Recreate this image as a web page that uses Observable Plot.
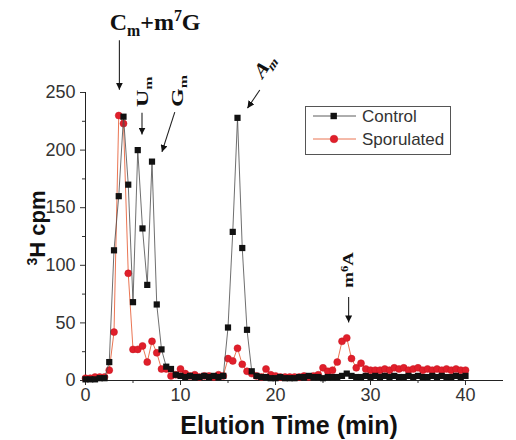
<!DOCTYPE html>
<html>
<head>
<meta charset="utf-8">
<script src="https://cdn.jsdelivr.net/npm/d3@7"></script>
<script src="https://cdn.jsdelivr.net/npm/@observablehq/plot@0.6"></script>
<style>
  html, body { margin: 0; padding: 0; background: #fff; }
  #chart { width: 516px; height: 440px; position: relative; }
</style>
</head>
<body>
<div id="chart"></div>
<script>
// ---- data (elution time in min, 3H cpm) ----
const times = [0,0.5,1,1.5,2,2.5,3,3.5,4,4.5,5,5.5,6,6.5,7,7.5,8,8.5,9,9.5,
  10,10.5,11,11.5,12,12.5,13,13.5,14,14.5,15,15.5,16,16.5,17,17.5,18,18.5,19,19.5,
  20,20.5,21,21.5,22,22.5,23,23.5,24,24.5,25,25.5,26,26.5,27,27.5,28,28.5,29,29.5,
  30,30.5,31,31.5,32,32.5,33,33.5,34,34.5,35,35.5,36,36.5,37,37.5,38,38.5,39,39.5,40];
const control = [1,1,1,2,2,16,113,160,229,170,68,200,132,83,190,66,27,12,10,5,
  4,3,4,3,3,4,3,4,3,4,46,129,228,115,44,8,4,3,3,2,
  2,3,2,2,2,3,3,4,3,3,2,3,3,3,4,6,4,3,3,4,
  3,4,3,4,3,4,3,3,4,3,4,3,3,4,3,4,3,3,4,3,4];
const sporulated = [2,2,3,3,3,9,42,230,223,93,27,27,30,16,34,24,10,10,4,5,
  10,6,4,5,3,4,4,3,5,4,19,17,28,14,8,6,4,3,10,5,
  4,3,3,3,3,3,4,3,4,5,11,8,9,16,34,37,19,11,15,10,
  9,9,9,10,9,11,10,11,9,10,11,9,10,9,10,9,10,9,10,9,9];
const seriesNames = ["Control", "Sporulated"];
const xTicks = [0, 10, 20, 30, 40];
const yTicks = [0, 50, 100, 150, 200, 250];
const yMinor = [25, 75, 125, 175, 225];
const xMinor = [5, 15, 25, 35];

// annotation labels: segments [text, kind], anchor in data units, rotation
const annoLabels = [
  {parts: [["C",""],["m","sub"],["+m",""],["7","sup"],["G",""]], x: 2.6, y: 304, rotate: 0, size: 24, sx: 1},
  {parts: [["U",""],["m","sub"]], x: 6.62, y: 237, rotate: -90, size: 24, sx: 0.66},
  {parts: [["G",""],["m","sub"]], x: 10.29, y: 237, rotate: -90, size: 24, sx: 0.66},
  {parts: [["A",""],["m","sub"]], x: 18.6, y: 260, rotate: -48, size: 23, sx: 0.7},
  {parts: [["m",""],["6","sup"],["A",""]], x: 28.26, y: 80, rotate: -90, size: 19, sx: 0.82}
];
const annoArrows = [
  {x1: 3.62, y1: 295, x2: 3.62, y2: 252},
  {x1: 6.0, y1: 232, x2: 6.0, y2: 213},
  {x1: 9.45, y1: 232.5, x2: 8.1, y2: 198},
  {x1: 18.4, y1: 251.7, x2: 17.1, y2: 236},
  {x1: 27.75, y1: 72, x2: 27.75, y2: 50}
];

const ctrlData = times.map((t, i) => ({t, v: control[i]}));
const sporData = times.map((t, i) => ({t, v: sporulated[i]}));

const RED_LINE = "#e8653f", RED_DOT = "#e01f2b", RED_EDGE = "#c8141f";
const BLK_LINE = "#4a4a4a", BLK_DOT = "#111";

const plot = Plot.plot({
  width: 516,
  height: 440,
  marginLeft: 85,
  marginRight: 13,
  marginTop: 92,
  marginBottom: 60,
  x: {domain: [0, 44]},
  y: {domain: [0, 250]},
  style: {background: "#fff", fontFamily: "Arial, 'Liberation Sans', sans-serif", fontSize: "17px", color: "#333"},
  marks: [
    Plot.axisY({ticks: yTicks, tickSize: 5, tickPadding: 5, label: null, fontSize: 18}),
    Plot.axisY({ticks: yMinor, tickSize: 3, text: null, label: null}),
    Plot.axisX({ticks: xTicks, tickSize: 5, tickPadding: 3, label: null, fontSize: 18}),
    Plot.axisX({ticks: xMinor, tickSize: 3, text: null, label: null}),
    Plot.ruleX([0], {y1: 0, y2: 250, stroke: "#222"}),
    Plot.ruleY([0], {stroke: "#222"}),
    Plot.line(sporData, {x: "t", y: "v", stroke: RED_LINE, strokeWidth: 0.9}),
    Plot.dot(sporData, {x: "t", y: "v", r: 3.5, fill: RED_DOT, stroke: RED_EDGE, strokeWidth: 0.5}),
    Plot.line(ctrlData, {x: "t", y: "v", stroke: BLK_LINE, strokeWidth: 0.8}),
    Plot.dot(ctrlData, {x: "t", y: "v", symbol: "square", r: 3.5, fill: BLK_DOT, stroke: "none"})
  ]
});

document.getElementById("chart").appendChild(plot);

const svg = d3.select(plot);
const xs = plot.scale("x"), ys = plot.scale("y");
const X = v => xs.apply(v), Y = v => ys.apply(v);

// arrowhead marker
const defs = svg.append("defs");
defs.append("marker")
  .attr("id", "ahead").attr("viewBox", "0 0 10 10")
  .attr("refX", 10).attr("refY", 5)
  .attr("markerWidth", 7).attr("markerHeight", 7)
  .attr("markerUnits", "userSpaceOnUse")
  .attr("orient", "auto")
  .append("path").attr("d", "M0,0 L10,5 L0,10 z").attr("fill", "#111");

const ann = svg.append("g");
annoArrows.forEach(a => {
  ann.append("line")
    .attr("x1", X(a.x1)).attr("y1", Y(a.y1))
    .attr("x2", X(a.x2)).attr("y2", Y(a.y2))
    .attr("stroke", "#222").attr("stroke-width", 1.1)
    .attr("marker-end", "url(#ahead)");
});
annoLabels.forEach(l => {
  const t = ann.append("text")
    .attr("transform", `translate(${X(l.x)},${Y(l.y)}) scale(${l.sx},1) rotate(${l.rotate})`)
    .attr("text-anchor", "start")
    .attr("font-family", "'Liberation Serif', 'Times New Roman', serif")
    .attr("font-weight", "bold")
    .attr("font-size", l.size)
    .attr("fill", "#111");
  let shift = 0;
  l.parts.forEach(([s, kind]) => {
    const target = kind === "sub" ? 0.25 * l.size : kind === "sup" ? -0.38 * l.size : 0;
    const ts = t.append("tspan").text(s).attr("dy", target - shift);
    if (kind) ts.attr("font-size", l.size * 0.66);
    shift = target;
  });
});

// axis titles
const yt = svg.append("text")
  .attr("transform", `translate(45,228) rotate(-90)`)
  .attr("text-anchor", "middle")
  .attr("font-family", "Arial, 'Liberation Sans', sans-serif")
  .attr("font-weight", "bold").attr("font-size", 22).attr("fill", "#111");
yt.append("tspan").text("3").attr("font-size", 14).attr("dy", -8);
yt.append("tspan").text("H cpm").attr("dy", 8);

svg.append("text")
  .attr("x", 289).attr("y", 434)
  .attr("text-anchor", "middle")
  .attr("font-family", "Arial, 'Liberation Sans', sans-serif")
  .attr("font-weight", "bold").attr("font-size", 25).attr("fill", "#111")
  .text("Elution Time (min)");

// legend
const lg = svg.append("g");
lg.append("rect").attr("x", 305.5).attr("y", 106.5).attr("width", 145).attr("height", 48)
  .attr("fill", "#fff").attr("stroke", "#555").attr("stroke-width", 1);
const rows = [
  {name: seriesNames[0], y: 116, line: BLK_LINE},
  {name: seriesNames[1], y: 139, line: RED_LINE}
];
rows.forEach((r, i) => {
  lg.append("line").attr("x1", 313).attr("x2", 356).attr("y1", r.y).attr("y2", r.y)
    .attr("stroke", r.line).attr("stroke-width", 0.9);
  if (i === 0) {
    lg.append("rect").attr("x", 330.5).attr("y", r.y - 3.2).attr("width", 6.4).attr("height", 6.4).attr("fill", BLK_DOT);
  } else {
    lg.append("circle").attr("cx", 334).attr("cy", r.y).attr("r", 3.8).attr("fill", RED_DOT).attr("stroke", RED_EDGE).attr("stroke-width", 0.5);
  }
  lg.append("text").attr("x", 362).attr("y", r.y + 6)
    .attr("text-anchor", "start")
    .attr("font-family", "Arial, 'Liberation Sans', sans-serif")
    .attr("font-size", 17).attr("fill", "#333").text(r.name);
});
</script>
</body>
</html>
